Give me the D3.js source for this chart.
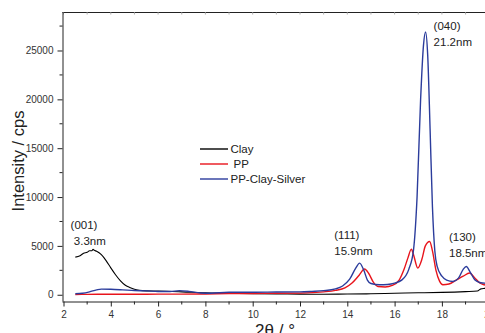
<!DOCTYPE html>
<html>
<head>
<meta charset="utf-8">
<script src="https://cdn.jsdelivr.net/npm/d3@7"></script>
<style>
  html, body { margin: 0; padding: 0; background: #fff; }
  svg { display: block; font-family: "Liberation Sans", Arial, sans-serif; }
</style>
</head>
<body>
<svg id="chart" width="485" height="333"></svg>
<script>
// ---- data ----
const seriesNames = ["Clay", "PP", "PP-Clay-Silver"];
const seriesColors = ["#000000", "#e8141c", "#2b3c9c"];

const clayX = [2.5, 2.7, 2.85, 3.0, 3.1, 3.2, 3.25, 3.3, 3.4, 3.6, 3.8, 4.0, 4.2, 4.4, 4.6, 4.8, 5.0, 5.2, 5.5, 6.0, 7.0, 8.0, 9.0, 10, 11, 12, 13, 14, 15, 16, 17, 18, 19, 19.5, 19.65, 19.8, 20];
const clayY = [3850, 4000, 4250, 4350, 4500, 4500, 4650, 4550, 4450, 4100, 3500, 2750, 2050, 1450, 1000, 750, 560, 460, 400, 380, 300, 200, 150, 100, 80, 60, 50, 70, 100, 150, 200, 240, 320, 380, 600, 650, 700];

const ppX = [2.5, 3, 4, 5, 6, 7, 8, 9, 10, 11, 12, 13, 13.5, 13.9, 14.2, 14.5, 14.73, 14.9, 15.1, 15.3, 15.6, 15.9, 16.2, 16.4, 16.56, 16.71, 16.8, 16.98, 17.15, 17.3, 17.48, 17.6, 17.75, 17.9, 18.04, 18.3, 18.6, 18.9, 19.17, 19.4, 19.6, 19.8, 20];
const ppY = [30, 40, 50, 50, 60, 60, 80, 120, 130, 150, 170, 300, 450, 700, 1200, 2000, 2630, 2200, 1300, 850, 800, 950, 1530, 2600, 3750, 4670, 4100, 2730, 3600, 5000, 5450, 4500, 2500, 1400, 1020, 1100, 1500, 1900, 2220, 1700, 1200, 1020, 900];

const pcsX = [2.5, 2.8, 3.1, 3.4, 3.6, 4.0, 4.5, 5.0, 5.5, 6.0, 6.5, 6.9, 7.3, 7.8, 8.2, 9.0, 10, 11, 12, 12.5, 13, 13.5, 13.8, 14.1, 14.35, 14.52, 14.7, 14.85, 15.0, 15.37, 15.7, 16.0, 16.3, 16.6, 16.8, 16.95, 17.1, 17.22, 17.31, 17.4, 17.5, 17.6, 17.7, 17.8, 18.0, 18.2, 18.47, 18.7, 18.9, 19.03, 19.2, 19.4, 19.6, 19.8, 20];
const pcsY = [100, 150, 300, 500, 580, 560, 500, 430, 400, 330, 330, 420, 350, 180, 150, 250, 250, 280, 300, 350, 420, 600, 900, 1600, 2700, 3240, 2500, 1500, 1150, 1020, 1050, 1190, 1500, 2600, 4600, 10000, 20000, 25500, 26900, 24500, 17000, 9000, 4500, 2900, 1900, 1500, 1360, 1700, 2600, 2890, 2300, 1500, 1250, 1190, 1100];

const xTicks = [2, 4, 6, 8, 10, 12, 14, 16, 18, 20];
const xMinorTicks = [3, 5, 7, 9, 11, 13, 15, 17, 19];
const yTicks = [0, 5000, 10000, 15000, 20000, 25000];
const yMinorTicks = [2500, 7500, 12500, 17500, 22500, 27500];

const annotations = [
  { x: 2.3, y: 6750, lines: ["(001)", " 3.3nm"] },
  { x: 13.45, y: 5700, lines: ["(111)", "15.9nm"] },
  { x: 17.65, y: 27100, lines: ["(040)", "21.2nm"] },
  { x: 18.3, y: 5530, lines: ["(130)", "18.5nm"] }
];

// ---- layout ----
const svg = d3.select("#chart");
const plotLeft = 62.5, plotTop = 12, plotBottom = 301.5;
const x = d3.scaleLinear().domain([2, 20]).range([63.5, 489.2]);
const y = d3.scaleLinear().domain([-690, 28940]).range([plotBottom, plotTop]);

const axisColor = "#222";

// clip
svg.append("defs").append("clipPath").attr("id", "plotclip")
  .append("rect").attr("x", plotLeft).attr("y", plotTop).attr("width", 500).attr("height", plotBottom - plotTop);

// frame top line
svg.append("line").attr("x1", plotLeft).attr("x2", 495).attr("y1", plotTop + 0.5).attr("y2", plotTop + 0.5)
  .attr("stroke", axisColor).attr("stroke-width", 1);

// top axis small inward ticks
svg.append("g").selectAll("line").data(xTicks.concat(xMinorTicks)).join("line")
  .attr("x1", d => x(d)).attr("x2", d => x(d)).attr("y1", plotTop).attr("y2", plotTop + 2.5)
  .attr("stroke", "#999").attr("stroke-width", 0.8);

// bottom axis
const xAxis = d3.axisBottom(x).tickValues(xTicks).tickSize(5).tickPadding(4).tickFormat(d3.format("d"));
const gx = svg.append("g").attr("transform", `translate(0,${plotBottom})`).call(xAxis);
gx.select(".domain").attr("stroke", axisColor).attr("d", `M${plotLeft},0.5H495`);
gx.selectAll(".tick line").attr("stroke", axisColor);
gx.selectAll(".tick text").attr("font-size", 10).attr("fill", "#333").attr("font-family", "Liberation Sans, Arial, sans-serif");
gx.append("g").selectAll("line").data(xMinorTicks).join("line")
  .attr("x1", d => x(d)).attr("x2", d => x(d)).attr("y1", 0).attr("y2", 3).attr("stroke", axisColor);

// left axis
const yAxis = d3.axisLeft(y).tickValues(yTicks).tickSize(5).tickPadding(4).tickFormat(d3.format("d"));
const gy = svg.append("g").attr("transform", `translate(${plotLeft},0)`).call(yAxis);
gy.select(".domain").attr("stroke", axisColor).attr("d", `M0.5,${plotTop}V${plotBottom}`);
gy.selectAll(".tick line").attr("stroke", axisColor);
gy.selectAll(".tick text").attr("font-size", 10).attr("fill", "#333").attr("font-family", "Liberation Sans, Arial, sans-serif");
gy.append("g").selectAll("line").data(yMinorTicks).join("line")
  .attr("x1", 0).attr("x2", -3).attr("y1", d => y(d)).attr("y2", d => y(d)).attr("stroke", axisColor);

// axis titles
svg.append("text").attr("transform", `translate(24,161) rotate(-90)`)
  .attr("text-anchor", "middle").attr("font-size", 16.5).attr("fill", "#222")
  .text("Intensity / cps");
svg.append("text").attr("x", 275).attr("y", 336).attr("text-anchor", "middle")
  .attr("font-size", 17).attr("fill", "#222").text("2θ / °");

// series
const series = [
  { name: seriesNames[0], color: seriesColors[0], xs: clayX, ys: clayY, w: 1.1 },
  { name: seriesNames[1], color: seriesColors[1], xs: ppX, ys: ppY, w: 1.4 },
  { name: seriesNames[2], color: seriesColors[2], xs: pcsX, ys: pcsY, w: 1.4 }
];
const line = d3.line().x(d => x(d[0])).y(d => y(d[1])).curve(d3.curveMonotoneX);
const plot = svg.append("g").attr("clip-path", "url(#plotclip)");
series.forEach(s => {
  plot.append("path").datum(s.xs.map((v, i) => [v, s.ys[i]]))
    .attr("fill", "none").attr("stroke", s.color).attr("stroke-width", s.w)
    .attr("stroke-linejoin", "round").attr("d", line);
});

// legend
const legendY = [149, 164, 179];
const lg = svg.append("g");
series.forEach((s, i) => {
  lg.append("line").attr("x1", 200).attr("x2", 228).attr("y1", legendY[i]).attr("y2", legendY[i])
    .attr("stroke", s.color).attr("stroke-width", 1.4);
  lg.append("text").attr("x", i === 1 ? 233.5 : 230.5).attr("y", legendY[i] + 4)
    .attr("font-size", 11.5).attr("fill", "#222").text(s.name);
});

// annotations
annotations.forEach(a => {
  const t = svg.append("text").attr("font-size", 11.5).attr("fill", "#222");
  a.lines.forEach((ln, i) => {
    t.append("tspan").attr("x", x(a.x)).attr("y", y(a.y) + i * 16).attr("xml:space", "preserve").text(ln);
  });
});
</script>
</body>
</html>
